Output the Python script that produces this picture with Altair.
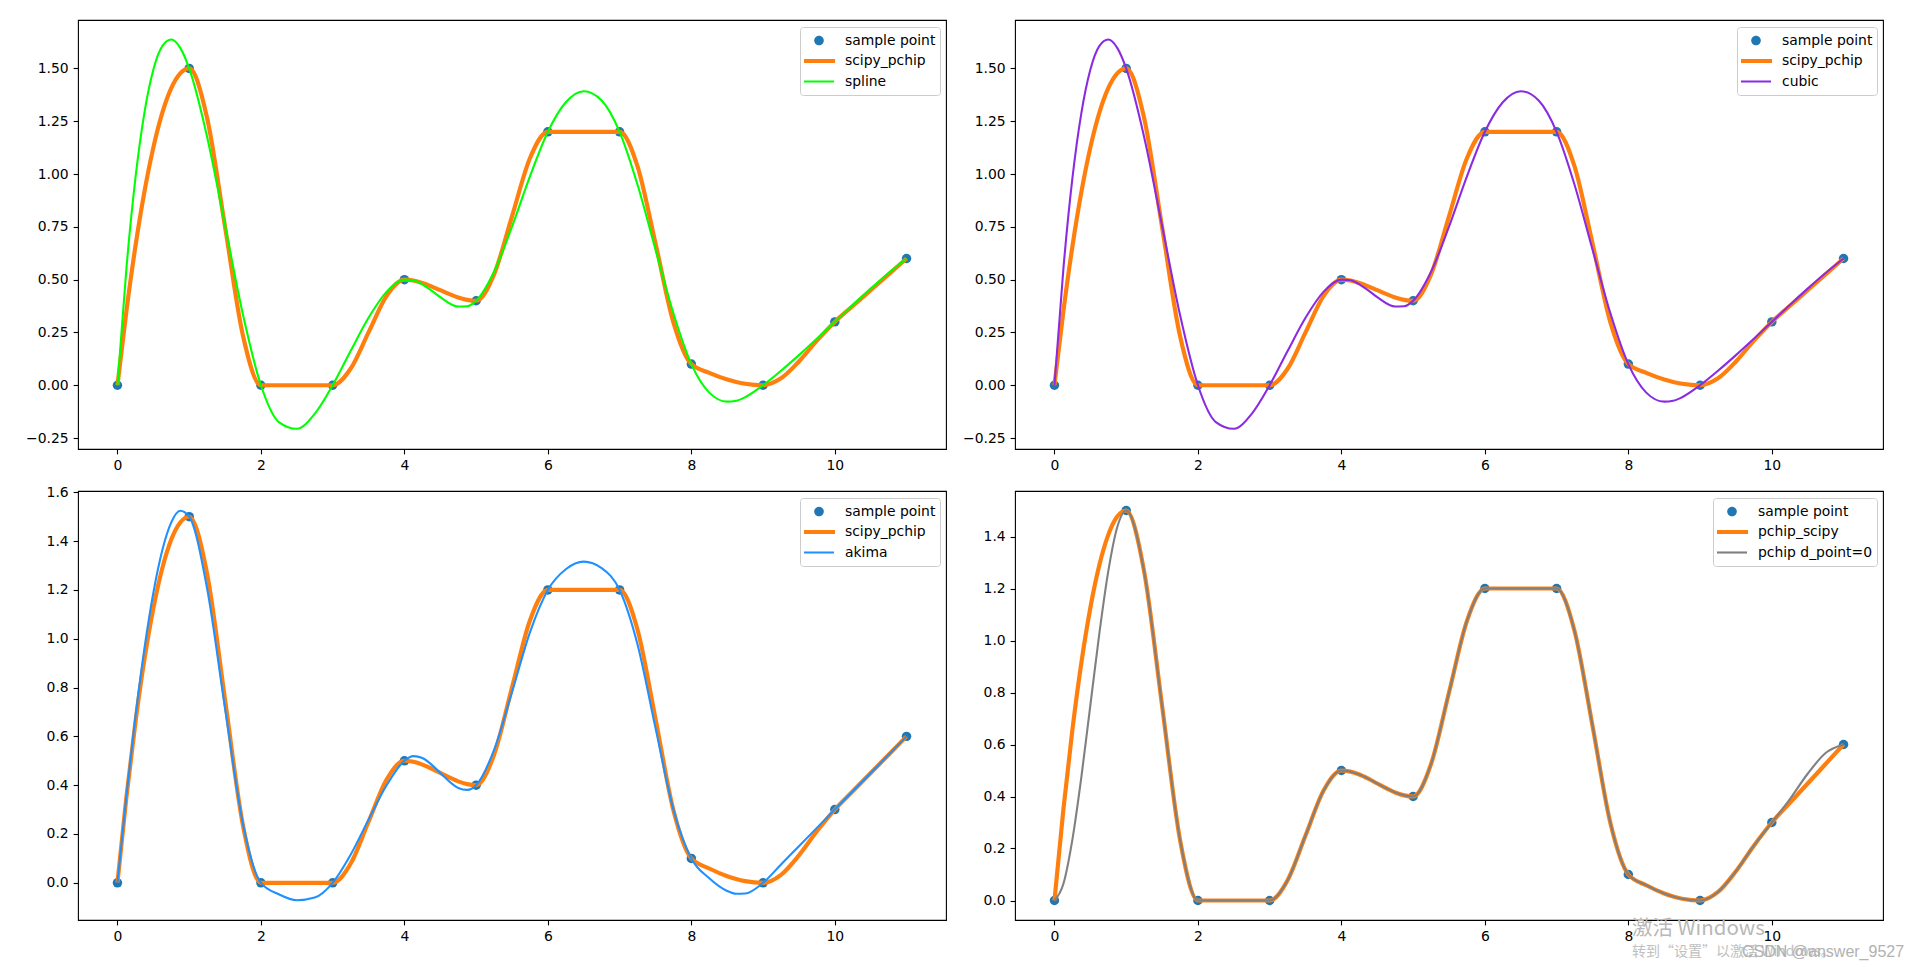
import altair as alt
import pandas as pd

# ---------------- data ----------------
sample_x = [0, 1, 2, 3, 4, 5, 6, 7, 8, 9, 10, 11]
sample_y = [0, 1.5, 0, 0, 0.5, 0.4, 1.2, 1.2, 0.1, 0, 0.3, 0.6]

grid_x = [0, 0.125, 0.25, 0.375, 0.5, 0.625, 0.75, 0.875, 1,
          1.25, 1.5, 1.75, 2, 2.25, 2.5, 2.75, 3, 3.25, 3.5, 3.75, 4,
          4.125, 4.25, 4.375, 4.5, 4.75, 4.875, 5, 5.25, 5.5, 5.75, 6,
          6.25, 6.5, 6.75, 7, 7.25, 7.5, 7.75, 8, 8.25, 8.5, 8.625, 8.75, 9,
          9.25, 9.5, 9.75, 10, 10.25, 10.5, 10.75, 11]

pchip_y = [0, 0.3516, 0.6563, 0.9141, 1.125, 1.2891, 1.4063, 1.4766, 1.5,
           1.2656, 0.75, 0.2344, 0, 0, 0, 0, 0, 0.0781, 0.25, 0.4219, 0.5,
           0.4957, 0.4844, 0.4684, 0.45, 0.4156, 0.4043, 0.4,
           0.525, 0.8, 1.075, 1.2, 1.2, 1.2, 1.2, 1.2,
           1.0367, 0.6729, 0.2977, 0.1, 0.0586, 0.0271, 0.0155, 0.0070, 0,
           0.0328, 0.1125, 0.2109, 0.3, 0.375, 0.45, 0.525, 0.6]

spline_y = [0, 0.5532, 0.9789, 1.2885, 1.4937, 1.6059, 1.6367, 1.5975, 1.5,
            1.1758, 0.7563, 0.3336, 0, -0.1743, -0.2064, -0.1353, 0,
            0.1620, 0.3193, 0.4419, 0.5,
            0.4973, 0.4779, 0.4488, 0.4168, 0.3724, 0.3737, 0.4,
            0.5374, 0.7509, 0.9889, 1.2, 1.3397, 1.3921, 1.3484, 1.2,
            0.9492, 0.6433, 0.3407, 0.1, -0.0349, -0.0777, -0.0734, -0.0567, 0,
            0.0685, 0.1426, 0.2204, 0.3, 0.3796, 0.4574, 0.5315, 0.6]

cubic_y = [0, 0.5532, 0.9789, 1.2885, 1.4937, 1.6059, 1.6367, 1.5975, 1.5,
           1.1758, 0.7563, 0.3336, 0, -0.1743, -0.2064, -0.1353, 0,
           0.1620, 0.3193, 0.4419, 0.5,
           0.4973, 0.4779, 0.4488, 0.4168, 0.3724, 0.3737, 0.4,
           0.5374, 0.7509, 0.9889, 1.2, 1.3397, 1.3921, 1.3484, 1.2,
           0.9492, 0.6433, 0.3407, 0.1, -0.0349, -0.0777, -0.0734, -0.0567, 0,
           0.0685, 0.1426, 0.2204, 0.3, 0.3796, 0.4574, 0.5315, 0.6]

akima_y = [0, 0.3584, 0.6797, 0.9580, 1.1875, 1.3623, 1.4766, 1.5244, 1.5,
           1.2054, 0.7143, 0.2411, 0, -0.0469, -0.0714, -0.0603, 0,
           0.1150, 0.2589, 0.3984, 0.5,
           0.5191, 0.5112, 0.4851, 0.45, 0.3888, 0.3809, 0.4,
           0.5446, 0.7807, 1.0265, 1.2, 1.2848, 1.3161, 1.2894, 1.2,
           0.9766, 0.6347, 0.3005, 0.1, 0.0188, -0.0333, -0.0445, -0.0438, 0,
           0.075, 0.15, 0.225, 0.3, 0.375, 0.45, 0.525, 0.6]

pchip_d0_y = [0, 0.0645, 0.2344, 0.4746, 0.75, 1.0254, 1.2656, 1.4355, 1.5,
              1.2656, 0.75, 0.2344, 0, 0, 0, 0, 0, 0.0781, 0.25, 0.4219, 0.5,
              0.4957, 0.4844, 0.4684, 0.45, 0.4156, 0.4043, 0.4,
              0.525, 0.8, 1.075, 1.2, 1.2, 1.2, 1.2, 1.2,
              1.0367, 0.6729, 0.2977, 0.1, 0.0586, 0.0271, 0.0155, 0.0070, 0,
              0.0328, 0.1125, 0.2109, 0.3, 0.3891, 0.4875, 0.5672, 0.6]

x_ticks = [0, 2, 4, 6, 8, 10]
y_ticks_top = [-0.25, 0, 0.25, 0.5, 0.75, 1.0, 1.25, 1.5]
y_ticks_bl = [0, 0.2, 0.4, 0.6, 0.8, 1.0, 1.2, 1.4, 1.6]
y_ticks_br = [0, 0.2, 0.4, 0.6, 0.8, 1.0, 1.2, 1.4]

watermark_1 = "激活 Windows"
watermark_2 = "转到“设置”以激活 Windows。"
watermark_3 = "CSDN @answer_9527"

# ---------------- styling ----------------
FONT = "DejaVu Sans"
FS = 13.9
W = 868
H = 429
C_POINT = "#1f77b4"
C_PCHIP = "#ff7f0e"

CIRCLE_PATH = "M -0.32 0 A 0.32 0.32 0 1 1 0.32 0 A 0.32 0.32 0 1 1 -0.32 0 Z"
THICK_PATH = "M -1.07 -0.14 L 1.07 -0.14 L 1.07 0.14 L -1.07 0.14 Z"
THIN_PATH = "M -1 -0.07 L 1 -0.07 L 1 0.07 L -1 0.07 Z"


def make_panel(pchip_label, pchip_vals, other_label, other_vals, other_color,
               ydomain, yticks, yfmt, other_width=2.08, extra=None):
    domain = ["sample point", pchip_label, other_label]
    rng = [C_POINT, C_PCHIP, other_color]

    def pick(values):
        return {"expr": "datum.value === '%s' ? '%s' : (datum.value === '%s' ? '%s' : '%s')"
                % (domain[0], values[0], domain[1], values[1], values[2])}

    legend = alt.Legend(
        title=None, orient="top-right", offset=6.5, padding=4,
        fillColor="rgba(255,255,255,0.8)", strokeColor="#cccccc",
        cornerRadius=3,
        labelFont=FONT, labelFontSize=FS, labelColor="black",
        labelOffset=11, labelLimit=400,
        symbolSize=900, clipHeight=19, rowPadding=1.5,
        symbolType=pick([CIRCLE_PATH, THICK_PATH, THIN_PATH]),
        symbolFillColor=pick(rng),
        symbolStrokeWidth=0, symbolOpacity=1,
    )
    color = alt.Color("series:N", scale=alt.Scale(domain=domain, range=rng),
                      legend=legend)
    xenc = alt.X("x:Q", scale=alt.Scale(domain=[-0.55, 11.55], nice=False, zero=False),
                 axis=alt.Axis(values=x_ticks, format="d", title=None,
                               labelFlush=False))
    yenc = alt.Y("y:Q", scale=alt.Scale(domain=ydomain, nice=False, zero=False),
                 axis=alt.Axis(values=yticks, format=yfmt, title=None))

    pts = pd.DataFrame({"x": sample_x, "y": sample_y, "series": "sample point"})
    pch = pd.DataFrame({"x": grid_x, "y": pchip_vals, "series": pchip_label})
    oth = pd.DataFrame({"x": grid_x, "y": other_vals, "series": other_label})

    l1 = alt.Chart(pts).mark_circle(size=90, opacity=1).encode(x=xenc, y=yenc, color=color)
    l2 = alt.Chart(pch).mark_line(interpolate="monotone", strokeWidth=4.17,
                                  color=C_PCHIP).encode(x=xenc, y=yenc)
    l3 = alt.Chart(oth).mark_line(interpolate="monotone", strokeWidth=other_width,
                                  color=other_color).encode(x=xenc, y=yenc)
    layers = [l1, l2, l3]
    if extra:
        layers.extend(extra)
    return alt.layer(*layers).properties(width=W, height=H)


wm1 = alt.Chart(pd.DataFrame({"t": [watermark_1]})).mark_text(
    align="left", baseline="alphabetic", font="Noto Sans CJK SC", fontSize=20.5,
    color="#b8b8b8").encode(x=alt.value(617), y=alt.value(444), text="t:N")
wm2 = alt.Chart(pd.DataFrame({"t": [watermark_2]})).mark_text(
    align="left", baseline="alphabetic", font="Noto Sans CJK SC", fontSize=14,
    color="#c0c0c0").encode(x=alt.value(617), y=alt.value(465), text="t:N")
wm3 = alt.Chart(pd.DataFrame({"t": [watermark_3]})).mark_text(
    align="left", baseline="alphabetic", font="Liberation Sans", fontSize=16,
    color="#aaaaaa", opacity=0.9).encode(x=alt.value(727), y=alt.value(466), text="t:N")

top_domain = [-0.3019, 1.7293]
tl = make_panel("scipy_pchip", pchip_y, "spline", spline_y, "#00ff00",
                top_domain, y_ticks_top, ".2f")
tr = make_panel("scipy_pchip", pchip_y, "cubic", cubic_y, "#8a2be2",
                top_domain, y_ticks_top, ".2f")
bl = make_panel("scipy_pchip", pchip_y, "akima", akima_y, "#1e90ff",
                [-0.1524, 1.6054], y_ticks_bl, ".1f")
br = make_panel("pchip_scipy", pchip_y, "pchip d_point=0", pchip_d0_y, "#808080",
                [-0.075, 1.575], y_ticks_br, ".1f", other_width=2.1,
                extra=[wm1, wm2, wm3])

chart = alt.concat(
    tl, tr, bl, br, columns=2, spacing={"row": 42, "column": 69}, bounds="flush"
).resolve_scale(color="independent").properties(
    padding={"left": 17, "top": 11, "right": 5, "bottom": 5},
    background="white",
).configure(
    view=alt.ViewConfig(stroke="black", strokeWidth=1.1),
    axis=alt.AxisConfig(domain=False, grid=False, ticks=True, tickColor="black",
                        tickWidth=1.1, tickSize=4.9, labelFont=FONT,
                        labelFontSize=FS, labelColor="black", labelPadding=4.9,
                        labelOverlap=False),
)

chart.save("out.html", embed_options={"renderer": "svg", "actions": False})
